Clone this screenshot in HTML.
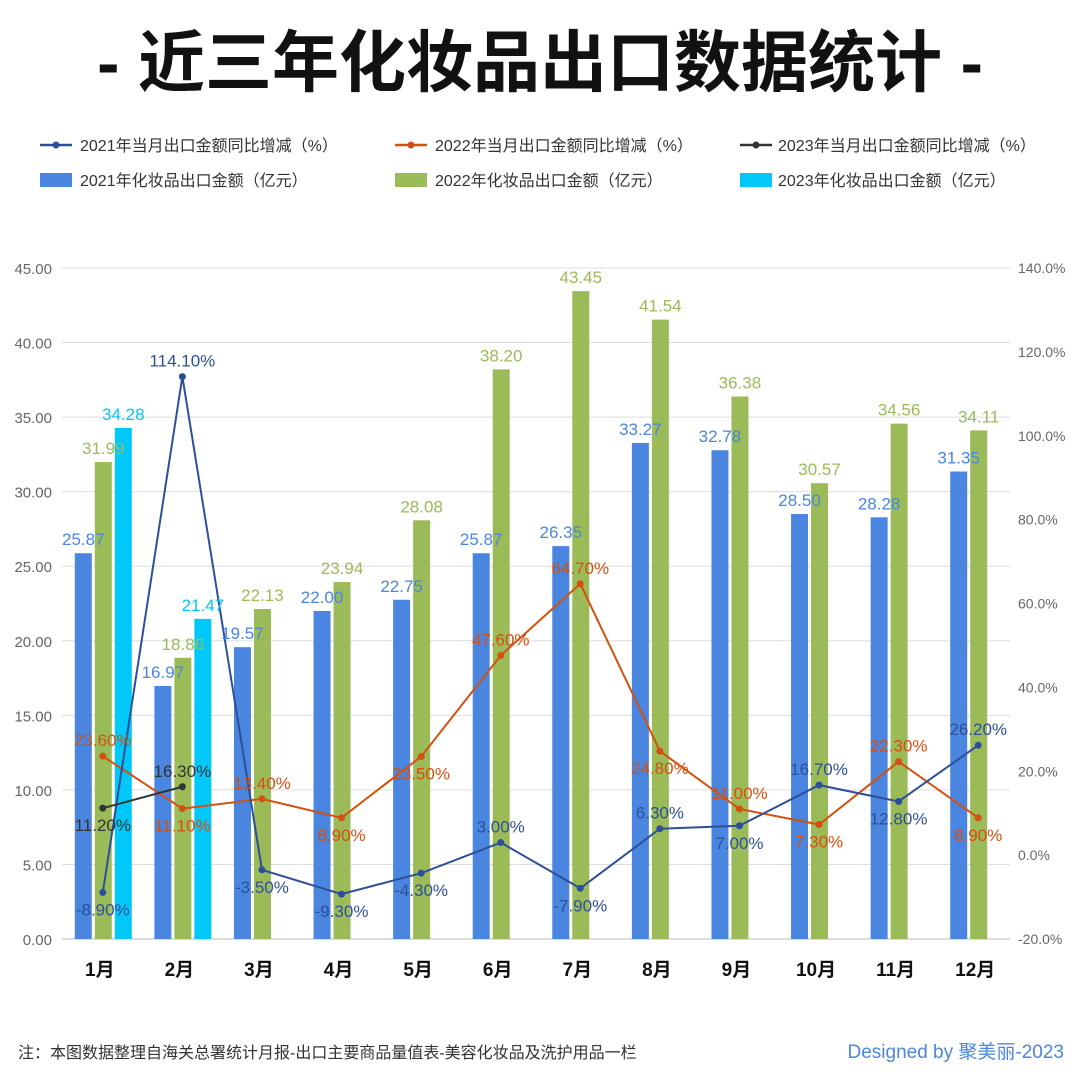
<!DOCTYPE html>
<html><head><meta charset="utf-8"><style>
html,body{margin:0;padding:0;background:#fff;}
body{width:1080px;height:1072px;overflow:hidden;font-family:"Liberation Sans","Noto Sans CJK SC",sans-serif;}
svg text{font-family:"Liberation Sans","Noto Sans CJK SC",sans-serif;}
</style></head><body>
<svg id="chart" width="1080" height="1072" xmlns="http://www.w3.org/2000/svg">
<text x="540" y="86" text-anchor="middle" font-size="67" font-weight="bold" fill="#111">- 近三年化妆品出口数据统计 -</text>
<g font-size="16" fill="#333">
 <g><line x1="40" y1="145" x2="72" y2="145" stroke="#2d4f9a" stroke-width="2.5"/><circle cx="56" cy="145" r="3.5" fill="#2d4f9a"/><text x="80" y="151">2021年当月出口金额同比增减（%）</text></g>
 <g><line x1="395" y1="145" x2="427" y2="145" stroke="#d4500f" stroke-width="2.5"/><circle cx="411" cy="145" r="3.5" fill="#d4500f"/><text x="435" y="151">2022年当月出口金额同比增减（%）</text></g>
 <g><line x1="740" y1="145" x2="772" y2="145" stroke="#333" stroke-width="2.5"/><circle cx="756" cy="145" r="3.5" fill="#333"/><text x="778" y="151">2023年当月出口金额同比增减（%）</text></g>
 <g><rect x="40" y="173" width="32" height="14" fill="#4a86e0"/><text x="80" y="186">2021年化妆品出口金额（亿元）</text></g>
 <g><rect x="395" y="173" width="32" height="14" fill="#9bbb59"/><text x="435" y="186">2022年化妆品出口金额（亿元）</text></g>
 <g><rect x="740" y="173" width="32" height="14" fill="#00c8f8"/><text x="778" y="186">2023年化妆品出口金额（亿元）</text></g>
</g>
<g id="plot"></g>
<text x="18" y="1058" font-size="16" fill="#333">注：本图数据整理自海关总署统计月报-出口主要商品量值表-美容化妆品及洗护用品一栏</text>
<text x="1064" y="1058" text-anchor="end" font-size="19" fill="#4a86e0">Designed by 聚美丽-2023</text>
</svg>
<script>
const months=["1月","2月","3月","4月","5月","6月","7月","8月","9月","10月","11月","12月"];
const leftTicks=[0,5,10,15,20,25,30,35,40,45];
const rightTicks=[-20,0,20,40,60,80,100,120,140];
const amt2021=[25.87,16.97,19.57,22.00,22.75,25.87,26.35,33.27,32.78,28.50,28.28,31.35];
const amt2022=[31.99,18.86,22.13,23.94,28.08,38.20,43.45,41.54,36.38,30.57,34.56,34.11];
const amt2023=[34.28,21.47];
const yoy2021=[-8.9,114.1,-3.5,-9.3,-4.3,3.0,-7.9,6.3,7.0,16.7,12.8,26.2];
const yoy2022=[23.6,11.1,13.4,8.9,23.5,47.6,64.7,24.8,11.0,7.3,22.3,8.9];
const yoy2023=[11.2,16.3];
const pos2021=["b","a","b","b","b","a","b","a","b","a","b","a"];
const pos2022=["a","b","a","b","b","a","a","b","a","b","a","b"];
const pos2023=["b","a"];

const NS="http://www.w3.org/2000/svg";
const X0=60,X1=1015,YB=939,YT=268;
const bw=(X1-X0)/months.length;
const xc=i=>X0+bw*(i+0.5);
const yL=v=>YB-(v/45)*(YB-YT);
const yR=v=>YB-((v+20)/160)*(YB-YT);
const plot=document.getElementById('plot');
function mk(tag,attrs,parent){const e=document.createElementNS(NS,tag);for(const k in attrs)e.setAttribute(k,attrs[k]);(parent||plot).appendChild(e);return e;}
function txt(s,attrs,parent){const e=mk('text',attrs,parent);e.textContent=s;return e;}

const grid=mk('g',{});


leftTicks.forEach(v=>{
  const l=mk('line',{x1:62,x2:1010,y1:yL(v),y2:yL(v),stroke:v===0?'#bbb':'#ddd','stroke-width':1},grid);
  
  
  const t=txt(v.toFixed(2),{x:52,y:yL(v)+6,'text-anchor':'end','font-size':15,fill:'#666'},grid);
  
  
});
rightTicks.forEach(v=>{
  const t=txt(v.toFixed(1)+'%',{x:1018,y:yR(v)+5,'font-size':14,fill:'#666'},grid);
  
  
});
months.forEach((m,i)=>{
  const t=txt(m,{x:xc(i),y:976,'text-anchor':'middle','font-size':19,'font-weight':'bold',fill:'#111'},grid);
  
  
});

const barG=mk('g',{});


const lineG=mk('g',{});


const labelG=mk('g',{});



function bars(data,off,color,name){
  data.forEach((v,i)=>{
    const x=xc(i)+off-8.5;
    const r=mk('rect',{x:x,y:yL(v),width:17,height:YB-yL(v),fill:color},barG);
    
    
    const t=txt(v.toFixed(2),{x:x+8.5,y:yL(v)-8,'text-anchor':'middle','font-size':17,fill:color},labelG);
    
    
  });
}
bars(amt2021,-16.5,'#4a86e0','2021');
bars(amt2022,3.5,'#9bbb59','2022');
bars(amt2023,23.5,'#00c8f8','2023');

function line(data,posArr,color,name){
  const pts=data.map((v,i)=>[xc(i)+3,yR(v)]);
  const p=mk('polyline',{points:pts.map(p=>p.join(',')).join(' '),fill:'none',stroke:color,'stroke-width':2},lineG);
  
  
  data.forEach((v,i)=>{
    const c=mk('circle',{cx:pts[i][0],cy:pts[i][1],r:3.5,fill:color},lineG);
    
    
    const above=posArr[i]==='a';
    const t=txt(v.toFixed(2)+'%',{x:pts[i][0],y:pts[i][1]+(above?-10:23),'text-anchor':'middle','font-size':17,fill:color},labelG);
    
    
  });
}
line(yoy2022,pos2022,'#d4500f','yoy-2022');
line(yoy2021,pos2021,'#2d4f9a','yoy-2021');
line(yoy2023,pos2023,'#333333','yoy-2023');
</script>
</body></html>
